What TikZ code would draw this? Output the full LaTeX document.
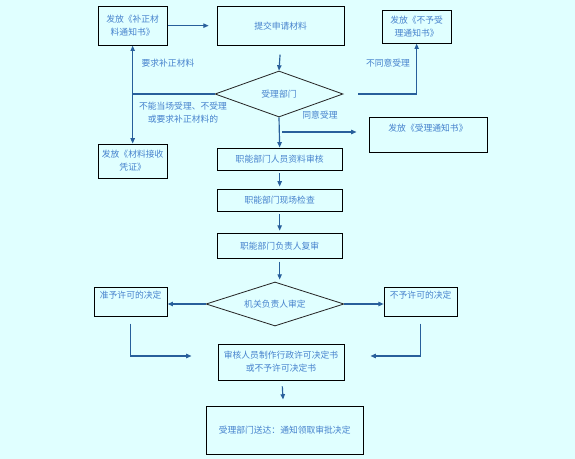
\documentclass[tikz,border=0pt]{standalone}
\usepackage{fontspec}
\setmainfont{Noto Sans CJK SC}
\usepackage{xcolor}
\usepackage{tikz}
\usetikzlibrary{shapes.geometric, arrows.meta, positioning, calc}

\definecolor{bgcyan}{RGB}{224,255,255}
\definecolor{txtblue}{RGB}{70,130,205}
\definecolor{lineblue}{RGB}{40,95,155}

\begin{document}
\begin{tikzpicture}[
    font=\fontsize{7.5}{11}\selectfont,
    box/.style={draw=black, fill=bgcyan, line width=0.8pt, align=center, text=txtblue, inner sep=1pt},
    dec/.style={draw=black!85, fill=bgcyan, diamond, shape aspect=3, line width=0.7pt, align=center, text=txtblue, inner sep=0pt},
    lab/.style={text=txtblue, align=center, inner sep=1pt},
    arrow/.style={-{Triangle[length=1.6mm, width=1.3mm]}, line width=1pt, draw=lineblue},
    link/.style={line width=1pt, draw=lineblue}
  ]
    % Background
    \fill[bgcyan] (0,0) rectangle (17.25,-13.77);
    \useasboundingbox (0,0) rectangle (17.25,-13.77);

    % Upper part
    \node[box, minimum width=2.07cm, minimum height=1.17cm] (bz) at (3.98,-0.77) {发放《补正材\\料通知书》};
    \node[box, minimum width=3.81cm, minimum height=1.17cm] (tj) at (8.42,-0.77) {提交申请材料};
    \node[dec, minimum width=3.84cm, minimum height=1.38cm] (sl) at (8.37,-2.82) {受理部门};
    \node[box, minimum width=2.07cm, minimum height=0.99cm] (bysl) at (12.50,-0.80) {发放《不予受\\理通知书》};
    \node[box, minimum width=2.07cm, minimum height=1.02cm] (js) at (3.98,-4.83) {发放《材料接收\\凭证》};
    \node[box, minimum width=3.54cm, minimum height=1.05cm] (sltz) at (12.84,-4.04) {发放《受理通知书》\\\mbox{}};

    % Labels
    \node[lab] (l_yq) at (5.04,-1.89) {要求补正材料};
    \node[lab] (l_bn) at (5.49,-3.39) {不能当场受理、不受理\\或要求补正材料的};
    \node[lab] (l_bty) at (11.64,-1.89) {不同意受理};
    \node[lab] (l_ty) at (9.60,-3.45) {同意受理};

    % Middle column
    \node[box, minimum width=3.75cm, minimum height=0.66cm] (sh) at (8.39,-4.77) {职能部门人员资料审核};
    \node[box, minimum width=3.75cm, minimum height=0.66cm] (xc) at (8.39,-6.00) {职能部门现场检查};
    \node[box, minimum width=3.75cm, minimum height=0.75cm] (fs) at (8.39,-7.37) {职能部门负责人复审};
    \node[dec, minimum width=4.14cm, minimum height=1.32cm] (sd) at (8.25,-9.12) {机关负责人审定};
    \node[box, minimum width=2.19cm, minimum height=0.87cm] (zy) at (3.92,-9.05) {准予许可的决定\\\mbox{}};
    \node[box, minimum width=2.19cm, minimum height=0.87cm] (by) at (12.62,-9.05) {不予许可的决定\\\mbox{}};
    \node[box, minimum width=3.78cm, minimum height=1.08cm] (zz) at (8.43,-10.86) {审核人员制作行政许可决定书\\或不予许可决定书};
    \node[box, minimum width=4.71cm, minimum height=1.44cm] (sdd) at (8.54,-12.90) {受理部门送达：通知领取审批决定};

    \coordinate (fork) at (bz.south |- sl.west);
    \coordinate (agree) at (8.46,-3.96);

    \draw[arrow, shorten >=0.24cm] (bz.east) -- (tj.west);
    \draw[arrow, shorten <=0.27cm] (tj.south) -- (sl.north);
    \draw[link] (sl.west) -- (fork);
    \draw[arrow] (fork) -- (bz.south);
    \draw[arrow] (fork) -- (js.north);
    \draw[arrow, shorten <=0.45cm] (sl.east) -| (bysl.south);
    \draw[arrow] (sl.south) -- (sh.north);
    \draw[arrow, shorten >=0.36cm] (agree) -- (agree -| sltz.west);

    \draw[arrow, shorten <=0.09cm, shorten >=0.06cm] (sh) -- (xc);
    \draw[arrow, shorten <=0.09cm, shorten >=0.06cm] (xc) -- (fs);
    \draw[arrow, shorten <=0.09cm, shorten >=0.06cm] (fs.south) -- (fs.south |- sd.north);
    \draw[arrow] (sd.west) -- (sd.west -| zy.east);
    \draw[arrow] (sd.east) -- (sd.east -| by.west);
    \draw[arrow, shorten <=0.21cm, shorten >=0.78cm] (zy.south) |- ([yshift=0.18cm]zz.west);
    \draw[arrow, shorten <=0.21cm, shorten >=0.78cm] (by.south) |- ([yshift=0.18cm]zz.east);
    \draw[arrow, shorten <=0.18cm, shorten >=0.18cm] (zz) -- (sdd);
  \end{tikzpicture}
\end{document}
